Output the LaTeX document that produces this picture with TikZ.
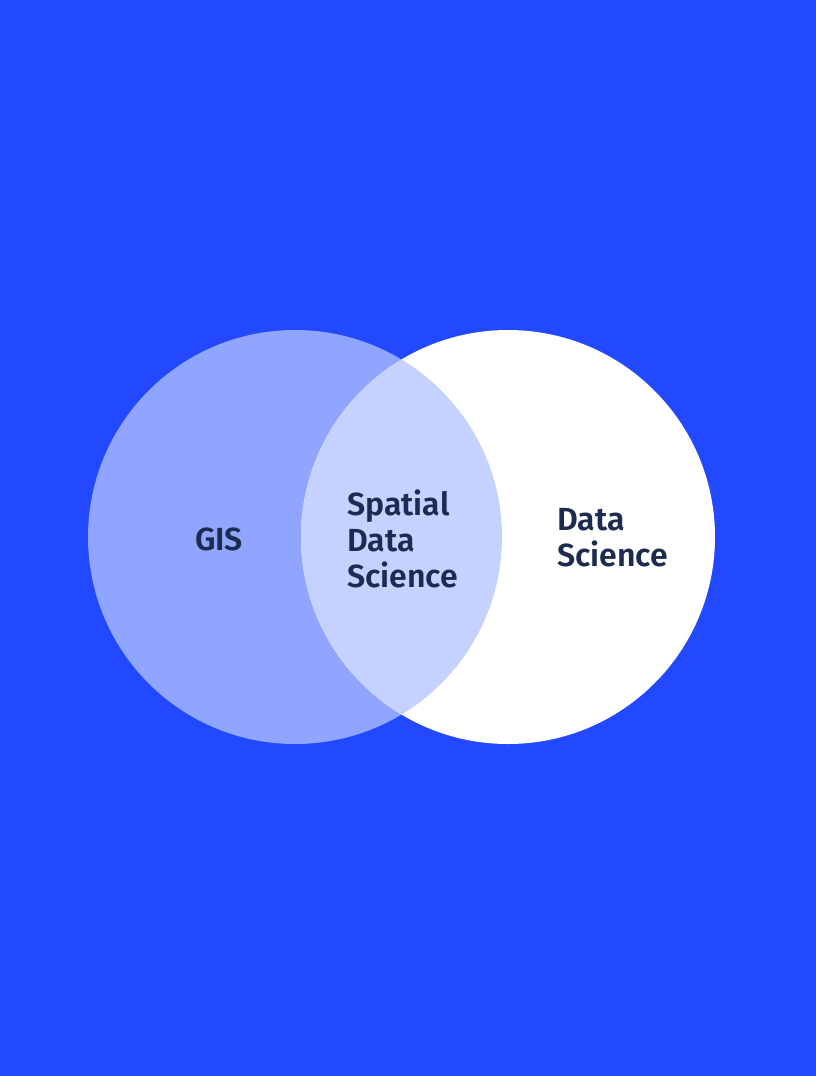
\documentclass[tikz,border=0pt]{standalone}
\usepackage{fontspec}
\setmainfont{Fira Sans}[BoldFont={Fira Sans SemiBold}]
\usepackage{tikz}
\usetikzlibrary{positioning}

\definecolor{bgblue}{HTML}{2249FF}
\definecolor{gisblue}{HTML}{8FA5FF}
\definecolor{mixblue}{HTML}{C5D1FF}
\definecolor{inkblue}{HTML}{1C2B4F}

\tikzset{
  label/.style={font=\fontsize{24}{27}\selectfont\bfseries,text=inkblue,
    align=left,inner sep=0pt}
}

\begin{document}
\begin{tikzpicture}[x=0.75pt,y=-0.75pt]
 \fill[bgblue] (0,0) rectangle (816,1076);
 \useasboundingbox (0,0) rectangle (816,1076);
 % the two sets
 \fill[gisblue] (295,537) circle(207);
 \fill[white] (508,537) circle(207);
 \begin{scope}
  \clip (295,537) circle(207);
  \fill[mixblue] (508,537) circle(207);
 \end{scope}
 % names
 \node[label] (gis) at (219,539) {GIS};
 \node[label,anchor=west] (sds) at (347,539) {Spatial\\Data\\Science};
 \node[label,anchor=west] (ds) at (557,538) {Data\\Science};
\end{tikzpicture}
\end{document}
